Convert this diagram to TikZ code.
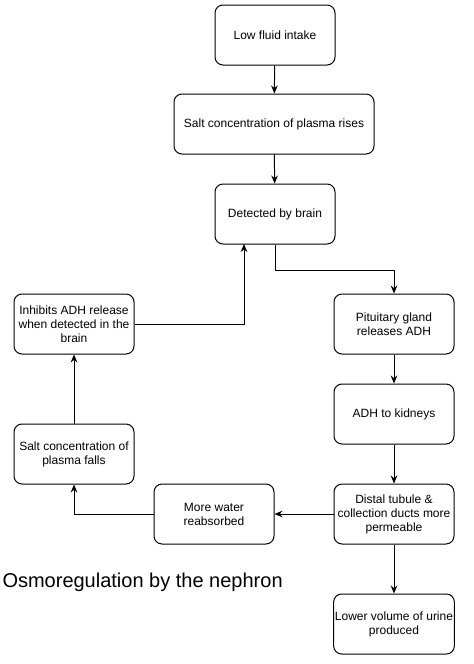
\documentclass[tikz,border=0pt]{standalone}
\usepackage{fontspec}
\setmainfont{Liberation Sans}
\usetikzlibrary{arrows.meta}

\begin{document}
\begin{tikzpicture}[x=0.75pt, y=-0.75pt, line width=0.75pt,
    box/.style={draw, rounded corners=6pt, minimum width=90pt, minimum height=45pt,
      inner sep=1pt, align=center, font=\fontsize{9}{10.5}\selectfont},
    >={Stealth[length=6pt, width=5pt]}]
  \useasboundingbox (0,0) rectangle (474,664);

  \node[box] (low) at (275, 35) {Low fluid intake};
  \node[box, minimum width=150pt] (rises) at (274, 124) {Salt concentration of plasma rises};
  \node[box] (brain) at (275, 214) {Detected by brain};
  \node[box] (pit) at (394, 324) {Pituitary gland\\releases ADH};
  \node[box] (kid) at (394, 414) {ADH to kidneys};
  \node[box] (distal) at (394, 514) {Distal tubule \&\\collection ducts more\\permeable};
  \node[box] (urine) at (394, 624) {Lower volume of urine\\produced};
  \node[box] (water) at (214, 514) {More water\\reabsorbed};
  \node[box] (falls) at (74, 454) {Salt concentration of\\plasma falls};
  \node[box] (inhib) at (74, 324) {Inhibits ADH release\\when detected in the\\brain};
  \node[anchor=west, font=\fontsize{15}{18}\selectfont, inner sep=0pt] (title) at (2, 582) {Osmoregulation by the nephron};
  \coordinate (bend) at (275, 270);
  \coordinate (back) at (244, 244);

  \draw[->] (low) -- (rises);
  \draw[->] (rises) -- (brain);
  \draw[->] (brain.south) -- (bend) -| (pit.north);
  \draw[->] (pit) -- (kid);
  \draw[->] (kid) -- (distal);
  \draw[->] (distal) -- (urine);
  \draw[->] (distal) -- (water);
  \draw[->] (water) -| (falls);
  \draw[->] (falls) -- (inhib);
  \draw[->] (inhib) -| (back);
\end{tikzpicture}
\end{document}
